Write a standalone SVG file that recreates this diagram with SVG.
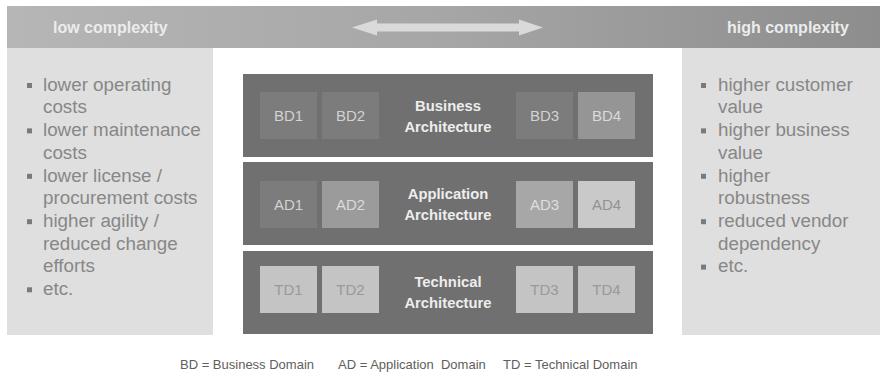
<svg xmlns="http://www.w3.org/2000/svg" width="882" height="380" viewBox="0 0 882 380">
  <defs>
    <linearGradient id="barGrad" x1="0" y1="0" x2="1" y2="0">
      <stop offset="0" stop-color="#b6b6b6"/>
      <stop offset="0.5" stop-color="#a6a6a6"/>
      <stop offset="1" stop-color="#8d8d8d"/>
    </linearGradient>
    <style>
      .hdr { font-family: "Liberation Sans", Arial, sans-serif; font-size: 16px; font-weight: bold; fill: #ececec; }
      .panel { fill: #dfdfdf; }
      .list { font-family: "Liberation Sans", Arial, sans-serif; font-size: 18.8px; fill: #878787; }
      .bullet { fill: #7a7a7a; }
      .band { fill: #707070; }
      .dom { font-family: "Liberation Sans", Arial, sans-serif; font-size: 15px; text-anchor: middle; }
      .layer { font-family: "Liberation Sans", Arial, sans-serif; font-size: 14.8px; font-weight: bold; fill: #ededed; text-anchor: middle; }
      .legend { font-family: "Liberation Sans", Arial, sans-serif; font-size: 13px; fill: #5e5e5e; }
    </style>
  </defs>

  <rect width="882" height="380" fill="#ffffff"/>

  <!-- complexity scale bar -->
  <g id="scale">
    <rect x="7" y="6" width="873" height="42" fill="url(#barGrad)"/>
    <text class="hdr" x="53" y="33">low complexity</text>
    <text class="hdr" x="727" y="33">high complexity</text>
    <polygon points="352,27.5 377,19.5 377,23.5 519,23.5 519,19.5 543,27.5 519,35.5 519,31.5 377,31.5 377,35.5" fill="#dadada"/>
  </g>

  <!-- low complexity benefits -->
  <g id="low-panel">
    <rect class="panel" x="7" y="48" width="206" height="287"/>
    <g class="bullet">
      <rect x="27" y="83" width="5" height="5"/>
      <rect x="27" y="128.4" width="5" height="5"/>
      <rect x="27" y="173.8" width="5" height="5"/>
      <rect x="27" y="219.2" width="5" height="5"/>
      <rect x="27" y="287.3" width="5" height="5"/>
    </g>
    <text class="list">
      <tspan x="43" y="90.7">lower operating</tspan>
      <tspan x="43" y="113.4">costs</tspan>
      <tspan x="43" y="136.1">lower maintenance</tspan>
      <tspan x="43" y="158.8">costs</tspan>
      <tspan x="43" y="181.5">lower license /</tspan>
      <tspan x="43" y="204.2">procurement costs</tspan>
      <tspan x="43" y="226.9">higher agility /</tspan>
      <tspan x="43" y="249.6">reduced change</tspan>
      <tspan x="43" y="272.3">efforts</tspan>
      <tspan x="43" y="295">etc.</tspan>
    </text>
  </g>

  <!-- high complexity benefits -->
  <g id="high-panel">
    <rect class="panel" x="682" y="48" width="198" height="287"/>
    <g class="bullet">
      <rect x="701" y="83" width="5" height="5"/>
      <rect x="701" y="128.4" width="5" height="5"/>
      <rect x="701" y="173.8" width="5" height="5"/>
      <rect x="701" y="219.2" width="5" height="5"/>
      <rect x="701" y="264.6" width="5" height="5"/>
    </g>
    <text class="list">
      <tspan x="718" y="90.7">higher customer</tspan>
      <tspan x="718" y="113.4">value</tspan>
      <tspan x="718" y="136.1">higher business</tspan>
      <tspan x="718" y="158.8">value</tspan>
      <tspan x="718" y="181.5">higher</tspan>
      <tspan x="718" y="204.2">robustness</tspan>
      <tspan x="718" y="226.9">reduced vendor</tspan>
      <tspan x="718" y="249.6">dependency</tspan>
      <tspan x="718" y="272.3">etc.</tspan>
    </text>
  </g>

  <!-- business layer -->
  <g id="business">
    <rect class="band" x="243" y="74" width="410" height="83"/>
    <rect x="260" y="92" width="57" height="47" fill="#7c7c7c"/>
    <rect x="322" y="92" width="57" height="47" fill="#7c7c7c"/>
    <rect x="516" y="92" width="57" height="47" fill="#7c7c7c"/>
    <rect x="578" y="92" width="57" height="47" fill="#959595"/>
    <text class="dom" x="288.5" y="121" fill="#d2d2d2">BD1</text>
    <text class="dom" x="350.5" y="121" fill="#d2d2d2">BD2</text>
    <text class="dom" x="544.5" y="121" fill="#d2d2d2">BD3</text>
    <text class="dom" x="606.5" y="121" fill="#dadada">BD4</text>
    <text class="layer" x="448" y="110.5">Business</text>
    <text class="layer" x="448" y="132">Architecture</text>
  </g>

  <!-- application layer -->
  <g id="application">
    <rect class="band" x="243" y="162" width="410" height="83"/>
    <rect x="260" y="181" width="57" height="47" fill="#7c7c7c"/>
    <rect x="322" y="181" width="57" height="47" fill="#9b9b9b"/>
    <rect x="516" y="181" width="57" height="47" fill="#a7a7a7"/>
    <rect x="578" y="181" width="57" height="47" fill="#c9c9c9"/>
    <text class="dom" x="288.5" y="210" fill="#d2d2d2">AD1</text>
    <text class="dom" x="350.5" y="210" fill="#dadada">AD2</text>
    <text class="dom" x="544.5" y="210" fill="#dedede">AD3</text>
    <text class="dom" x="606.5" y="210" fill="#929292">AD4</text>
    <text class="layer" x="448" y="198.5">Application</text>
    <text class="layer" x="448" y="220">Architecture</text>
  </g>

  <!-- technical layer -->
  <g id="technical">
    <rect class="band" x="243" y="251" width="410" height="83"/>
    <rect x="260" y="266" width="57" height="47" fill="#c4c4c4"/>
    <rect x="322" y="266" width="57" height="47" fill="#c4c4c4"/>
    <rect x="516" y="266" width="57" height="47" fill="#c4c4c4"/>
    <rect x="578" y="266" width="57" height="47" fill="#c4c4c4"/>
    <text class="dom" x="288.5" y="295" fill="#999999">TD1</text>
    <text class="dom" x="350.5" y="295" fill="#999999">TD2</text>
    <text class="dom" x="544.5" y="295" fill="#999999">TD3</text>
    <text class="dom" x="606.5" y="295" fill="#999999">TD4</text>
    <text class="layer" x="448" y="286.5">Technical</text>
    <text class="layer" x="448" y="308">Architecture</text>
  </g>

  <!-- abbreviations -->
  <g id="legend">
    <text class="legend" x="180" y="369">BD = Business Domain</text>
    <text class="legend" x="338" y="369" xml:space="preserve">AD = Application  Domain</text>
    <text class="legend" x="503" y="369">TD = Technical Domain</text>
  </g>

  <!-- connectors: none between nodes -->
  <g id="connectors"/>
</svg>
